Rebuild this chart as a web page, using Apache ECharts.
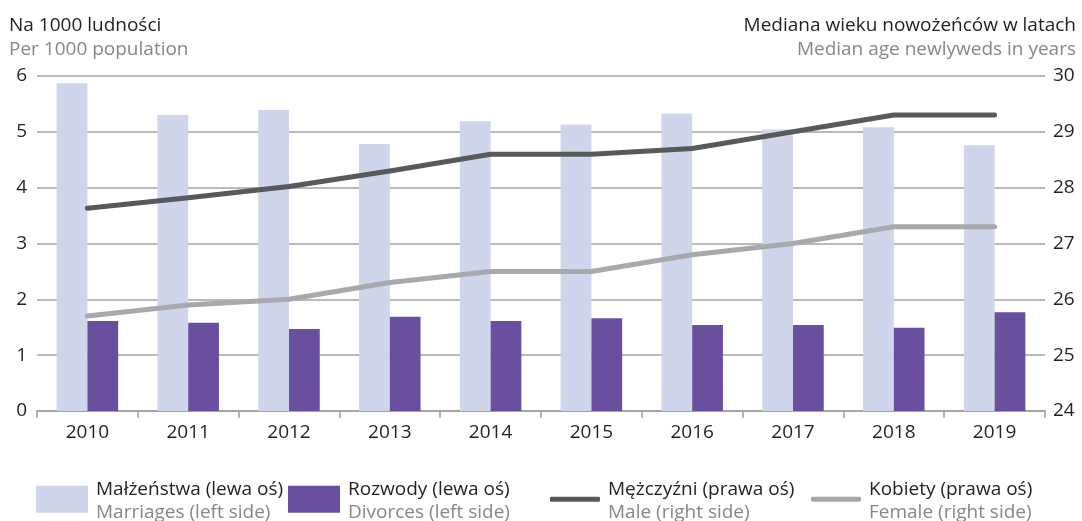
<!DOCTYPE html>
<html>
<head>
<meta charset="utf-8">
<script src="https://cdn.jsdelivr.net/npm/echarts@6/dist/echarts.min.js"></script>
<style>
  html, body { margin: 0; padding: 0; background: #fff; }
  #chart { width: 1082px; height: 521px; }
</style>
</head>
<body>
<div id="chart"></div>
<script>
// Categories (years)
const years = ['2010', '2011', '2012', '2013', '2014', '2015', '2016', '2017', '2018', '2019'];

// Per 1000 population (left axis)
const marriages = [5.87, 5.30, 5.39, 4.78, 5.19, 5.13, 5.33, 5.04, 5.08, 4.76];
const divorces  = [1.61, 1.58, 1.47, 1.69, 1.61, 1.66, 1.54, 1.54, 1.49, 1.77];

// Median age of newlyweds in years (right axis)
const maleAge   = [27.63, 27.82, 28.02, 28.3, 28.6, 28.6, 28.7, 29.0, 29.3, 29.3];
const femaleAge = [25.7, 25.9, 26.0, 26.3, 26.5, 26.5, 26.8, 27.0, 27.3, 27.3];

// Legend labels: Polish first line, English second line
const seriesNames = ['Małżeństwa (lewa oś)', 'Rozwody (lewa oś)', 'Mężczyźni (prawa oś)', 'Kobiety (prawa oś)'];
const seriesNamesEn = ['Marriages (left side)', 'Divorces (left side)', 'Male (right side)', 'Female (right side)'];

const FONT = '"Open Sans", "Noto Sans", sans-serif';
const DARK = '#231f20';
const GREY_TEXT = '#878787';
const COLORS = ['#cfd5ea', '#6a4f9e', '#58595b', '#a7a9ac'];

const chart = echarts.init(document.getElementById('chart'), null, { renderer: 'canvas' });

// One legend component per series so each key can be placed on its own
function legendFor(i, left, iconW, iconH, icon) {
  return {
    show: true,
    data: [{ name: seriesNames[i], icon: icon }],
    left: left,
    top: 480,
    padding: 0,
    itemWidth: iconW,
    itemHeight: iconH,
    itemGap: 0,
    selectedMode: false,
    itemStyle: { borderWidth: 0 },
    formatter: function (name) {
      return '{a|' + name + '}\n{b|' + seriesNamesEn[i] + '}';
    },
    textStyle: {
      padding: [4, 0, 0, 3],
      rich: {
        a: { fontFamily: FONT, fontSize: 19, color: DARK, lineHeight: 23.5 },
        b: { fontFamily: FONT, fontSize: 19, color: GREY_TEXT, lineHeight: 23.5 }
      }
    }
  };
}

const option = {
  animation: false,
  textStyle: { fontFamily: FONT },
  graphic: [
    { type: 'text', left: 9, top: 16, style: { text: 'Na 1000 ludności', font: '19px ' + FONT, fill: DARK } },
    { type: 'text', left: 9, top: 40, style: { text: 'Per 1000 population', font: '19px ' + FONT, fill: GREY_TEXT } },
    { type: 'text', right: 6, top: 16, style: { text: 'Mediana wieku nowożeńców w latach', font: '19px ' + FONT, fill: DARK } },
    { type: 'text', right: 6, top: 40, style: { text: 'Median age newlyweds in years', font: '19px ' + FONT, fill: GREY_TEXT } }
  ],
  legend: [
    legendFor(0, 36, 52, 27, 'rect'),
    legendFor(1, 288, 52, 27, 'rect'),
    legendFor(2, 550, 50, 5, 'roundRect'),
    legendFor(3, 811, 50, 5, 'roundRect')
  ],
  grid: { left: 37, right: 37, top: 76, bottom: 110, containLabel: false },
  xAxis: {
    type: 'category',
    data: years,
    boundaryGap: true,
    axisLine: { lineStyle: { color: '#9d9d9d', width: 1.5 } },
    axisTick: { show: true, length: 7, lineStyle: { color: '#9d9d9d', width: 1.5 } },
    axisLabel: { color: DARK, fontSize: 19, fontFamily: FONT, margin: 12 }
  },
  yAxis: [
    {
      type: 'value', min: 0, max: 6, interval: 1,
      axisLine: { show: false }, axisTick: { show: false },
      axisLabel: { color: DARK, fontSize: 19, fontFamily: FONT, margin: 10 },
      splitLine: { lineStyle: { color: '#a3a3a3', width: 1.5 } }
    },
    {
      type: 'value', min: 24, max: 30, interval: 1,
      axisLine: { show: false }, axisTick: { show: false },
      axisLabel: { color: DARK, fontSize: 19, fontFamily: FONT, margin: 8 },
      splitLine: { show: false }
    }
  ],
  series: [
    {
      name: seriesNames[0], type: 'bar', yAxisIndex: 0, data: marriages,
      barWidth: '30.5%', barGap: '0%',
      itemStyle: { color: COLORS[0] }
    },
    {
      name: seriesNames[1], type: 'bar', yAxisIndex: 0, data: divorces,
      barWidth: '30.5%', barGap: '0%',
      itemStyle: { color: COLORS[1] }
    },
    {
      name: seriesNames[2], type: 'line', yAxisIndex: 1, data: maleAge,
      symbol: 'none', z: 5,
      itemStyle: { color: COLORS[2] },
      lineStyle: { color: COLORS[2], width: 5, cap: 'round', join: 'round' }
    },
    {
      name: seriesNames[3], type: 'line', yAxisIndex: 1, data: femaleAge,
      symbol: 'none', z: 5,
      itemStyle: { color: COLORS[3] },
      lineStyle: { color: COLORS[3], width: 5, cap: 'round', join: 'round' }
    }
  ]
};

chart.setOption(option);
</script>
</body>
</html>
